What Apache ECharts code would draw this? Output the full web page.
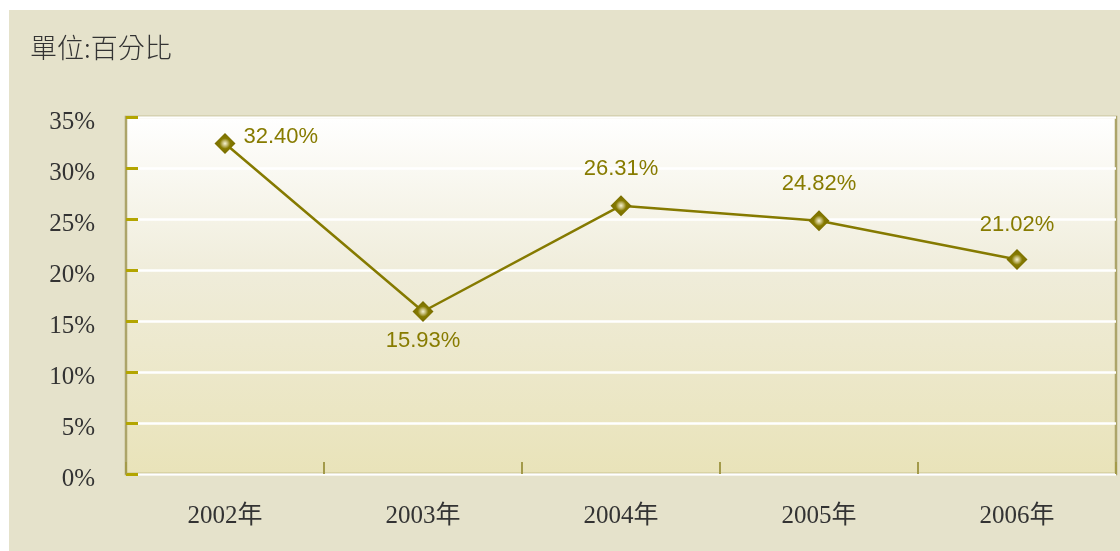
<!DOCTYPE html>
<html><head><meta charset="utf-8">
<script src="https://cdn.jsdelivr.net/npm/echarts@6/dist/echarts.min.js"></script>
<style>html,body{margin:0;padding:0;background:#fff}#c{width:1120px;height:551px}</style>
</head><body><div id="c"></div>
<script>
const categories = ['2002年','2003年','2004年','2005年','2006年'];
const values = [32.40, 15.93, 26.31, 24.82, 21.02];
const valueLabels = ['32.40%','15.93%','26.31%','24.82%','21.02%'];
const unitTitle = '單位:百分比';

const chart = echarts.init(document.getElementById('c'));
const labelPos = [
  {position:'right', distance:8, offset:[0,-7]},
  {position:'bottom', distance:8},
  {position:'top', distance:15},
  {position:'top', distance:15},
  {position:'top', distance:13}
];
const olive = '#857a00';
chart.setOption({
  backgroundColor:'#ffffff',
  animation:false,
  graphic:[
    {type:'rect', z:-10, silent:true, shape:{x:9,y:10,width:1111,height:541}, style:{fill:'#e5e2cb'}},
    {type:'text', left:30, top:34, style:{text:unitTitle, fontSize:27, fontFamily:'"Noto Sans CJK TC"', fontWeight:300, fill:'#333'}}
  ],
  grid:{left:126, right:4, top:117, bottom:77, show:true, borderColor:'#aca469', borderWidth:2.5,
    backgroundColor:new echarts.graphic.LinearGradient(0,0,0,1,[{offset:0,color:'#ffffff'},{offset:0.45,color:'#efecd9'},{offset:1,color:'#e9e3b9'}])},
  xAxis:{type:'category', data:categories, boundaryGap:true,
    axisLine:{show:false},
    axisTick:{show:true, inside:true, length:12, lineStyle:{color:'#a39a4a', width:2}},
    axisLabel:{color:'#333', fontFamily:'"Liberation Serif","Noto Sans CJK TC",serif', fontSize:25, margin:30},
    splitLine:{show:false}},
  yAxis:{type:'value', min:0, max:35, interval:5,
    axisLine:{show:false},
    axisTick:{show:true, inside:true, length:12, lineStyle:{color:'#b3a500', width:3}},
    axisLabel:{formatter:'{value}%', color:'#333', fontFamily:'"Liberation Serif",serif', fontSize:25, margin:31, verticalAlign:'top', lineHeight:10},
    splitLine:{show:true, lineStyle:{color:'#ffffff', width:2.5}}},
  series:[{
    type:'line', data:values.map((v,i)=>({value:v, label:Object.assign({show:true, formatter:valueLabels[i]}, labelPos[i])})),
    lineStyle:{color:olive, width:2.5},
    symbol:'diamond', symbolSize:21,
    itemStyle:{color:new echarts.graphic.RadialGradient(0.5,0.5,0.5,[{offset:0,color:'#f5f2d2'},{offset:0.25,color:'#c2b970'},{offset:0.5,color:'#857a00'},{offset:1,color:'#776b00'}]), borderWidth:0},
    label:{color:'#877b00', fontFamily:'"Liberation Sans",Arial,sans-serif', fontSize:22}
  }]
});
</script></body></html>
